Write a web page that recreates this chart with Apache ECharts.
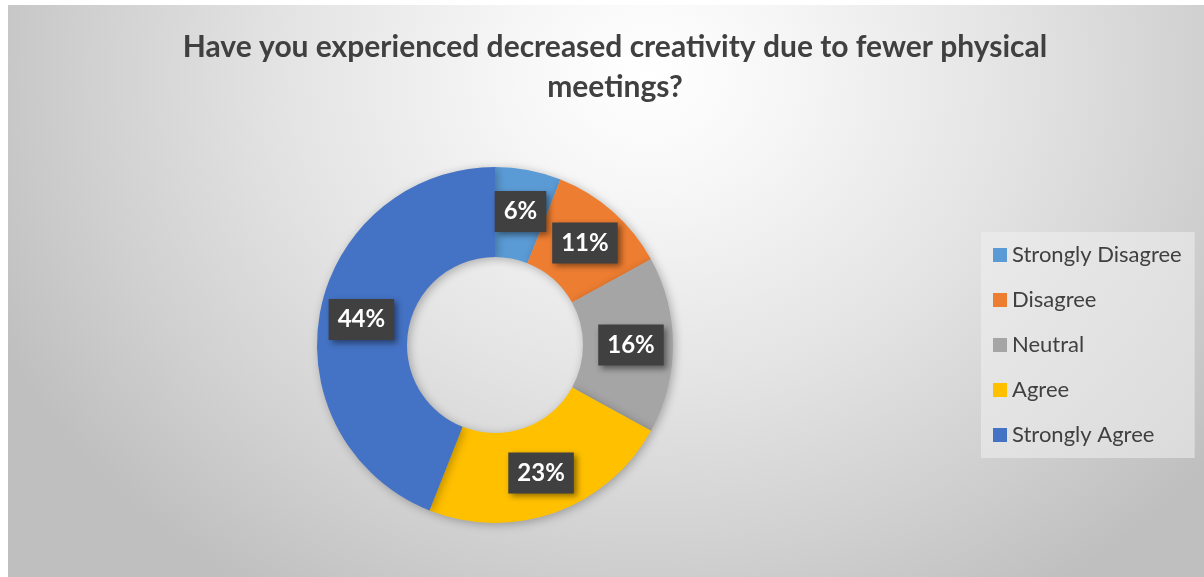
<!DOCTYPE html>
<html>
<head>
<meta charset="utf-8">
<script src="https://cdn.jsdelivr.net/npm/echarts@6/dist/echarts.min.js"></script>
<style>
  html, body { margin: 0; padding: 0; background: #ffffff; }
  #bg {
    position: absolute; left: 8px; top: 5px; width: 1196px; height: 572px;
    background: radial-gradient(ellipse 720px 620px at 640px 70px,
      #ffffff 0%, #f7f7f7 18%, #e4e4e4 50%, #d0d0d0 78%, #bfbfbf 100%);
  }
  #chart { position: absolute; left: 0; top: 0; width: 1204px; height: 577px; }
</style>
</head>
<body>
<div id="bg"></div>
<div id="chart"></div>
<script>
// Survey answers and their share of respondents (%)
const categories = ['Strongly Disagree', 'Disagree', 'Neutral', 'Agree', 'Strongly Agree'];
const shares = [6, 11, 16, 23, 44];
const sliceColors = ['#5B9BD5', '#ED7D31', '#A5A5A5', '#FFC000', '#4472C4'];

const chart = echarts.init(document.getElementById('chart'), null, { renderer: 'canvas' });

chart.setOption({
  backgroundColor: 'transparent',
  animation: false,
  title: {
    text: 'Have you experienced decreased creativity due to fewer physical\nmeetings?',
    left: 610,
    top: 22,
    textAlign: 'center',
    textStyle: {
      fontFamily: 'Lato',
      fontWeight: 'bold',
      fontSize: 30,
      lineHeight: 40,
      color: '#404040'
    }
  },
  legend: {
    orient: 'vertical',
    left: 981,
    top: 232,
    padding: [12, 13, 12, 12],
    backgroundColor: 'rgba(240,240,240,0.55)',
    itemWidth: 14,
    itemHeight: 14,
    itemGap: 23,
    icon: 'rect',
    data: categories,
    textStyle: {
      fontFamily: 'Lato',
      fontSize: 22,
      lineHeight: 20,
      color: '#404040'
    }
  },
  series: [{
    type: 'pie',
    center: [495, 345],
    radius: [88, 178],
    startAngle: 90,
    clockwise: true,
    avoidLabelOverlap: false,
    color: sliceColors,
    itemStyle: {
      borderWidth: 0,
      shadowBlur: 10,
      shadowColor: 'rgba(0,0,0,0.28)',
      shadowOffsetX: 2,
      shadowOffsetY: 2
    },
    label: {
      show: true,
      position: 'inside',
      formatter: '{c}%',
      fontFamily: 'Lato',
      fontWeight: 'bold',
      fontSize: 24,
      color: '#ffffff',
      backgroundColor: '#404040',
      padding: [9, 9, 8, 9],
      shadowColor: 'rgba(0,0,0,0.45)',
      shadowBlur: 6,
      shadowOffsetX: 3,
      shadowOffsetY: 3
    },
    labelLine: { show: false },
    emphasis: { disabled: true },
    data: categories.map((name, i) => ({ name: name, value: shares[i] }))
  }]
});
</script>
</body>
</html>
